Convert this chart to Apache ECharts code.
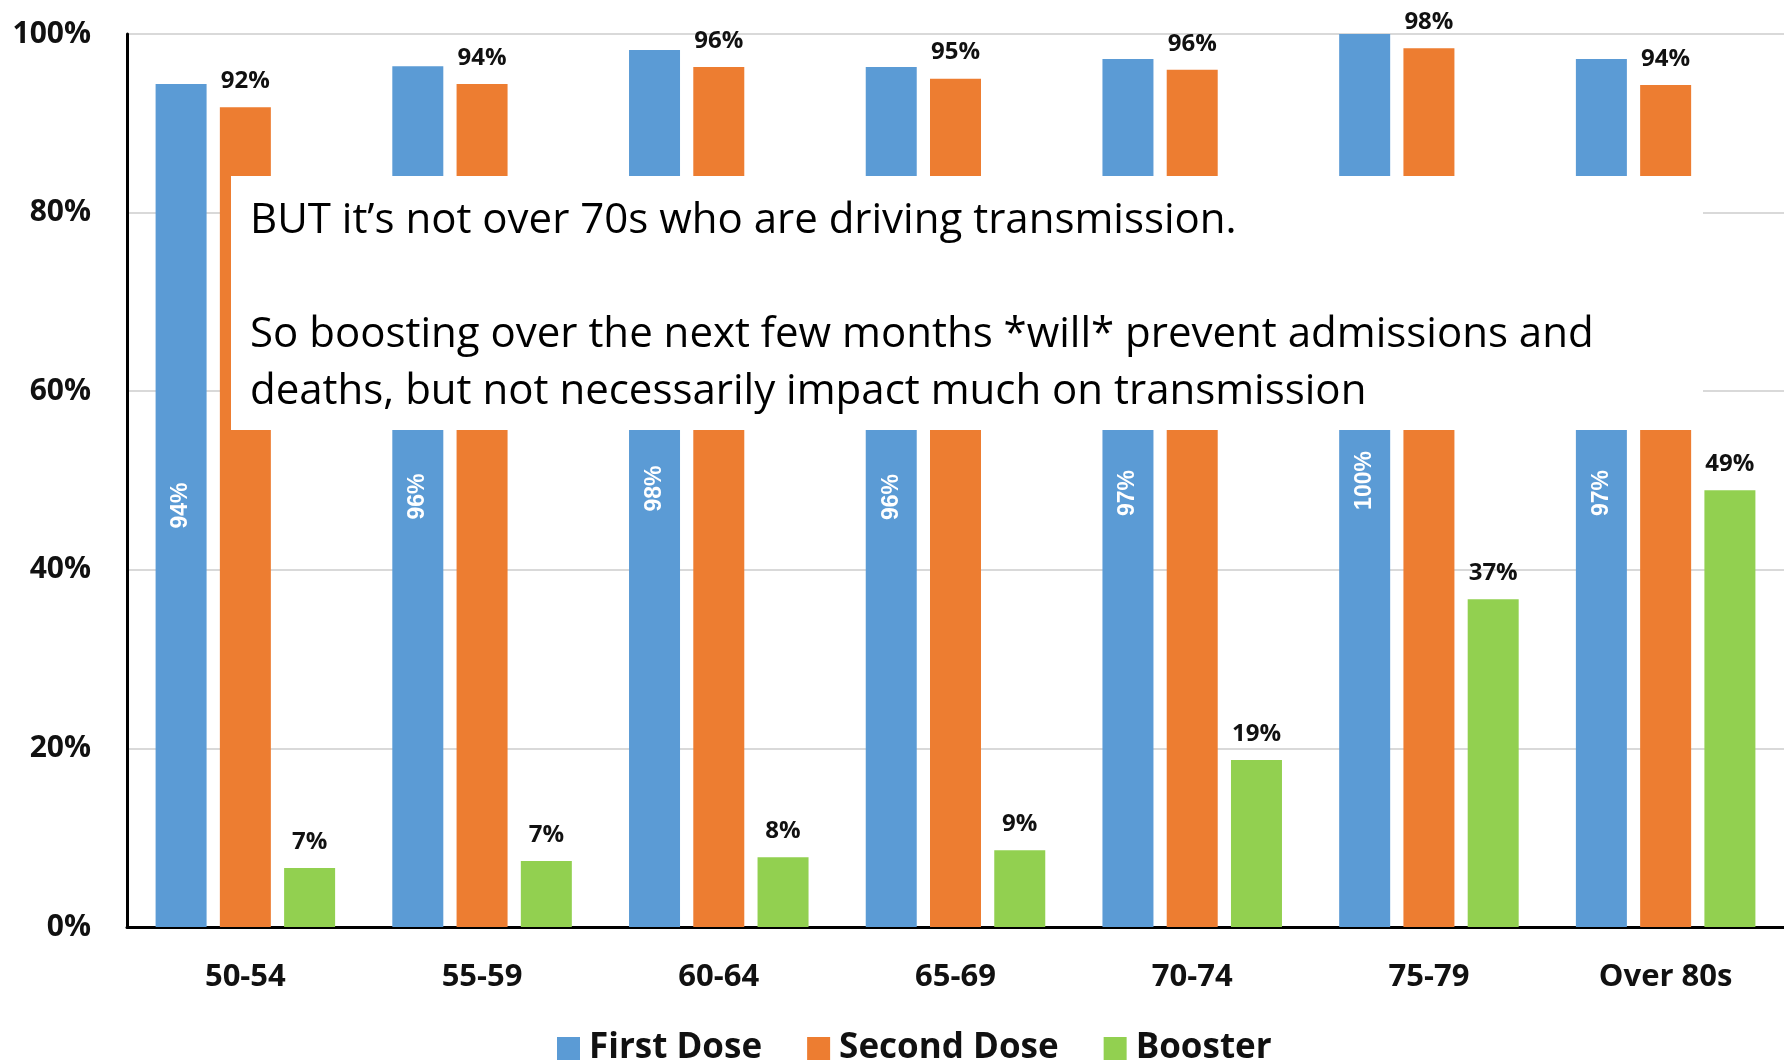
<!DOCTYPE html>
<html>
<head>
<meta charset="utf-8">
<script src="https://cdn.jsdelivr.net/npm/echarts@6/dist/echarts.min.js"></script>
<style>
    html, body { margin: 0; padding: 0; background: #fff; }
    #main { width: 1784px; height: 1062px; }
</style>
</head>
<body>
<div id="main"></div>
<script>
// age groups
var categories = ['50-54', '55-59', '60-64', '65-69', '70-74', '75-79', 'Over 80s'];
// % uptake per group
var firstDose = [94.4, 96.4, 98.2, 96.3, 97.2, 100, 97.2];
var secondDose = [91.8, 94.4, 96.3, 95.0, 96.0, 98.4, 94.3];
var booster = [6.6, 7.4, 7.8, 8.6, 18.7, 36.7, 48.9];
var yTicks = [0, 20, 40, 60, 80, 100];

var boxLines = [
    'BUT it\u2019s not over 70s who are driving transmission.',
    '',
    'So boosting over the next few months *will* prevent admissions and',
    'deaths, but not necessarily impact much on transmission'
];

var colors = ['#5B9BD5', '#ED7D31', '#92D050'];
var boldFont = '"Open Sans", "Liberation Sans", sans-serif';

function pct(p) {
    return Math.round(p.value) + '%';
}

var myChart = echarts.init(document.getElementById('main'));

var option = {
    color: colors,
    animation: false,
    grid: {
        left: 127,
        width: 1666,
        top: 34,
        bottom: 135,
        containLabel: false
    },
    legend: {
        data: ['First Dose', 'Second Dose', 'Booster'],
        left: 552,
        top: 1026,
        icon: 'rect',
        itemWidth: 23,
        itemHeight: 23,
        itemGap: 45,
        textStyle: {
            fontFamily: boldFont,
            fontWeight: 'bold',
            fontSize: 35,
            color: '#111',
            padding: [0, 0, 0, 4]
        }
    },
    xAxis: {
        type: 'category',
        data: categories,
        axisTick: { show: false },
        axisLine: { lineStyle: { color: '#000', width: 3 } },
        axisLabel: {
            margin: 35,
            fontFamily: boldFont,
            fontWeight: 'bold',
            fontSize: 31,
            color: '#111'
        }
    },
    yAxis: {
        type: 'value',
        min: yTicks[0],
        max: yTicks[yTicks.length - 1],
        interval: 20,
        axisLine: { show: true, lineStyle: { color: '#000', width: 3 } },
        axisTick: { show: false },
        splitLine: { lineStyle: { color: '#d9d9d9', width: 2 } },
        axisLabel: {
            margin: 36,
            formatter: '{value}%',
            fontFamily: boldFont,
            fontWeight: 'bold',
            fontSize: 30,
            color: '#111'
        }
    },
    series: [
        {
            name: 'First Dose',
            type: 'bar',
            barWidth: 51,
            barGap: '26%',
            data: firstDose,
            label: {
                show: true,
                position: 'inside',
                rotate: 90,
                formatter: pct,
                color: '#fff',
                fontFamily: '"Liberation Sans", Arial, sans-serif',
                fontWeight: 'bold',
                fontSize: 23
            }
        },
        {
            name: 'Second Dose',
            type: 'bar',
            barWidth: 51,
            barGap: '26%',
            data: secondDose,
            label: {
                show: true,
                position: 'top',
                distance: 14,
                formatter: pct,
                color: '#111',
                fontFamily: boldFont,
                fontWeight: 'bold',
                fontSize: 24
            }
        },
        {
            name: 'Booster',
            type: 'bar',
            barWidth: 51,
            barGap: '26%',
            data: booster,
            label: {
                show: true,
                position: 'top',
                distance: 14,
                formatter: pct,
                color: '#111',
                fontFamily: boldFont,
                fontWeight: 'bold',
                fontSize: 24
            }
        }
    ],
    graphic: [
        {
            type: 'rect',
            z: 100,
            zlevel: 1,
            shape: { x: 231, y: 176, width: 1472, height: 254 },
            style: { fill: '#fff' }
        },
        {
            type: 'text',
            z: 101,
            zlevel: 1,
            x: 250,
            y: 193,
            style: {
                text: boxLines.join('\n'),
                font: '42px "Open Sans", Lato, sans-serif',
                fill: '#000',
                lineHeight: 57,
                verticalAlign: 'top'
            }
        }
    ]
};

myChart.setOption(option);
</script>
</body>
</html>
